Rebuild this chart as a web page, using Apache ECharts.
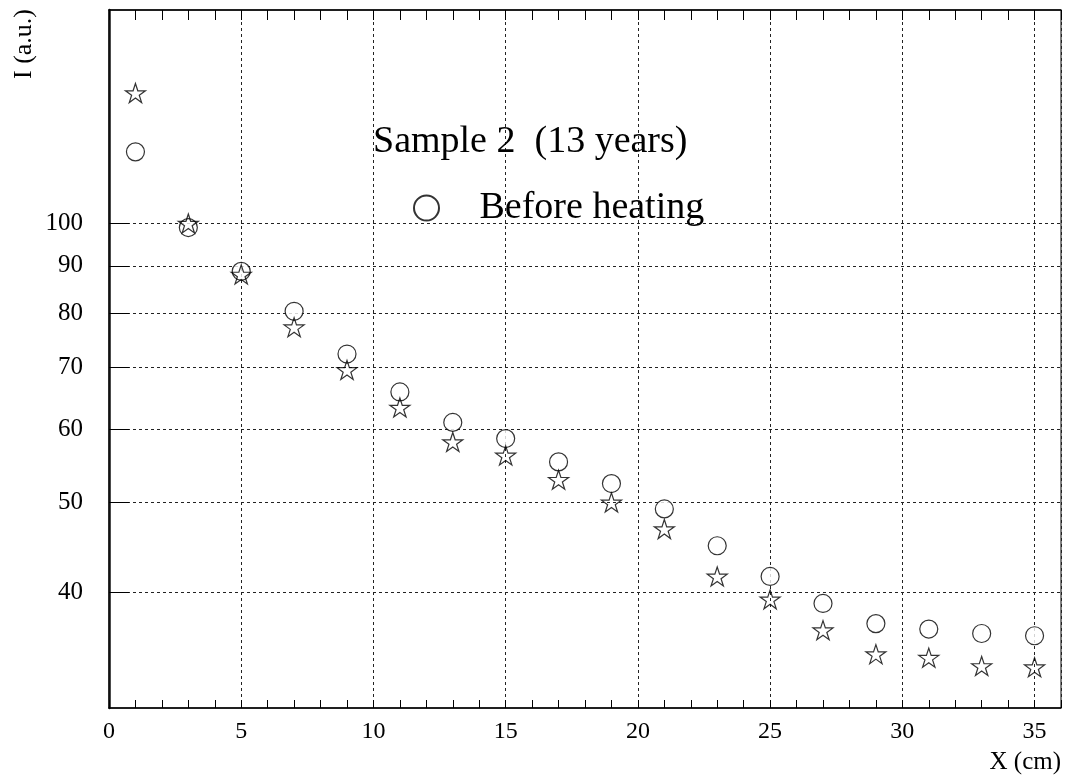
<!DOCTYPE html>
<html>
<head>
<meta charset="utf-8">
<script src="https://cdn.jsdelivr.net/npm/echarts@6/dist/echarts.min.js"></script>
<style>
  html, body { margin: 0; padding: 0; background: #fff; }
  #chart { width: 1066px; height: 783px; }
</style>
</head>
<body>
<div id="chart"></div>
<script>
// Positions along the sample (cm)
const positions = [1, 3, 5, 7, 9, 11, 13, 15, 17, 19, 21, 23, 25, 27, 29, 31, 33, 35];
// Intensity before heating (a.u.)
const beforeHeating = [119.5, 99.0, 88.8, 80.4, 72.3, 65.8, 61.0, 58.6, 55.3, 52.4, 49.2, 44.9, 41.6, 38.9, 37.0, 36.5, 36.1, 35.9];
// Intensity after heating (a.u.)
const afterHeating = [138.3, 100.0, 88.1, 77.3, 69.5, 63.3, 58.1, 56.2, 52.9, 50.0, 46.8, 41.6, 39.3, 36.4, 34.3, 34.0, 33.3, 33.2];
// Labelled values on the logarithmic intensity axis
const yTickValues = [40, 50, 60, 70, 80, 90, 100];

const FONT = '"Liberation Serif", "DejaVu Serif", serif';
const STAR = 'path://M50 0 L61.23 34.55 L97.55 34.55 L68.16 55.9 L79.39 90.45 L50 69.1 L20.61 90.45 L31.84 55.9 L2.45 34.55 L38.77 34.55 Z';
const gridDash = { color: '#222', width: 1, type: [3, 3] };

const chart = echarts.init(document.getElementById('chart'), null, { renderer: 'canvas' });

chart.setOption({
  backgroundColor: '#fff',
  animation: false,
  title: {
    text: 'Sample 2  (13 years)',
    left: 373,
    top: 123,
    padding: 0,
    textStyle: { fontFamily: FONT, fontSize: 38, fontWeight: 'normal', color: '#000' }
  },
  legend: {
    data: ['Before heating'],
    left: 413,
    top: 189,
    padding: 0,
    itemWidth: 96,
    itemHeight: 25,
    icon: 'circle',
    selectedMode: false,
    textStyle: { fontFamily: FONT, fontSize: 38, color: '#000' }
  },
  grid: {
    left: 109, right: 5, top: 10, bottom: 75,
    show: true, borderColor: '#000', borderWidth: 1, backgroundColor: 'transparent'
  },
  xAxis: [{
    type: 'value',
    min: 0, max: 36, interval: 5,
    position: 'bottom',
    axisLine: { show: true, onZero: false, lineStyle: { color: '#000', width: 1.5 } },
    axisTick: { show: true, inside: true, length: 8, lineStyle: { color: '#000' } },
    minorTick: { show: true, splitNumber: 5, length: 8, lineStyle: { color: '#000' } },
    splitLine: { show: true, lineStyle: gridDash },
    axisLabel: { showMaxLabel: false, margin: 12, fontFamily: FONT, fontSize: 24, color: '#000' },
    name: 'X (cm)',
    nameLocation: 'end',
    nameGap: 0,
    nameTextStyle: { fontFamily: FONT, fontSize: 25, color: '#000', align: 'right', verticalAlign: 'top', padding: [42, 0, 0, 0] }
  }, {
    type: 'value',
    min: 0, max: 36, interval: 5,
    position: 'top',
    axisLine: { show: true, onZero: false, lineStyle: { color: '#000', width: 1.5 } },
    axisTick: { show: true, inside: true, length: 10, lineStyle: { color: '#000' } },
    minorTick: { show: true, splitNumber: 5, length: 10, lineStyle: { color: '#000' } },
    splitLine: { show: false },
    axisLabel: { show: false }
  }],
  yAxis: {
    type: 'log',
    logBase: 10,
    min: 30, max: 170,
    axisLine: { show: true, onZero: false, lineStyle: { color: '#111', width: 2.5 } },
    axisTick: { show: true, inside: true, length: 20, customValues: yTickValues, lineStyle: { color: '#000' } },
    splitLine: { show: true, lineStyle: gridDash },
    axisLabel: { customValues: yTickValues, margin: 26, fontFamily: FONT, fontSize: 25, color: '#000' }
  },
  graphic: [{
    type: 'text',
    x: 11,
    y: 9,
    rotation: Math.PI / 2,
    style: {
      text: 'I (a.u.)',
      font: '26px ' + FONT,
      fill: '#000',
      textAlign: 'right',
      textVerticalAlign: 'top'
    }
  }],
  series: [{
    name: 'Before heating',
    type: 'scatter',
    xAxisIndex: 0,
    symbol: 'circle',
    symbolSize: 18,
    itemStyle: { color: '#fff', borderColor: '#000', borderWidth: 1.2 },
    data: positions.map((x, i) => [x, beforeHeating[i]]),
    z: 3
  }, {
    name: 'After heating',
    type: 'scatter',
    xAxisIndex: 0,
    symbol: STAR,
    symbolKeepAspect: true,
    symbolSize: 20,
    itemStyle: { color: 'rgba(255,255,255,0)', borderColor: '#000', borderWidth: 1.2 },
    data: positions.map((x, i) => [x, afterHeating[i]]),
    z: 4
  }]
});
</script>
</body>
</html>
